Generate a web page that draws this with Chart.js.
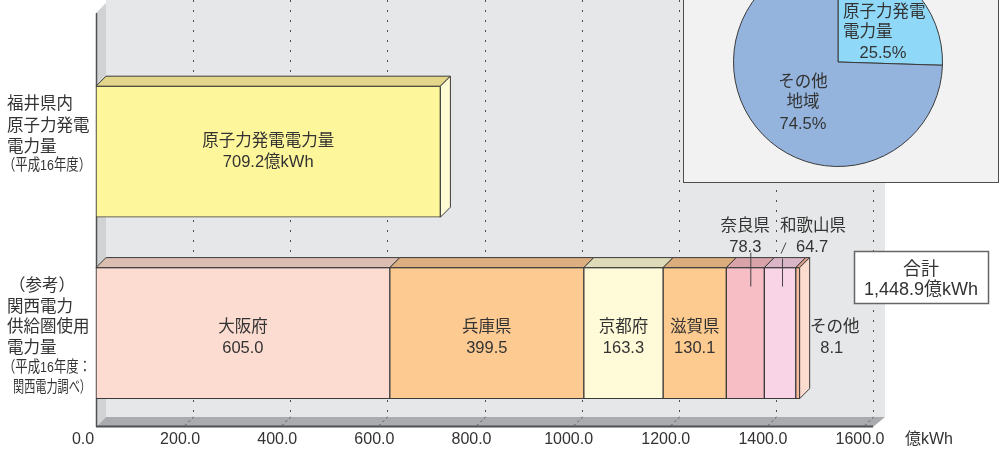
<!DOCTYPE html>
<html lang="ja">
<head>
<meta charset="UTF-8">
<title>福井県内原子力発電電力量と関西電力供給圏使用電力量</title>
<script src="https://cdn.jsdelivr.net/npm/chart.js"></script>
<style>
    body {
        margin: 0;
        background: #fff;
        font-family: "Liberation Sans", "Noto Sans CJK JP", sans-serif;
    }
    #wrap {
        position: relative;
        width: 1002px;
        height: 454px;
        overflow: hidden;
    }
    #barChart {
        position: absolute;
        left: 0;
        top: 0;
    }
    #pieBox {
        position: absolute;
        left: 683px;
        top: -10px;
        width: 314px;
        height: 191px;
        background: #f2f2f2;
        border: 1px solid #4d4d4d;
    }
    #pieHolder {
        position: absolute;
        left: 728px;
        top: -48px;
        width: 220px;
        height: 220px;
    }
</style>
</head>
<body>
<div id="wrap">
    <canvas id="barChart" width="1002" height="459"></canvas>
    <div id="pieBox"></div>
    <div id="pieHolder"><canvas id="pieChart" width="220" height="220"></canvas></div>
</div>
<script>
// ---- data (億kWh) ----
const rowLabels = ['福井県内原子力発電電力量', '関西電力供給圏使用電力量'];
const rowLabelLines = [
    ['福井県内', '原子力発電', '電力量', '（平成16年度）'],
    ['（参考）', '関西電力', '供給圏使用', '電力量', '（平成16年度：', '関西電力調べ）']
];
const nuclearName = '原子力発電電力量';
const nuclearValue = 709.2;
const areaNames = ['大阪府', '兵庫県', '京都府', '滋賀県', '奈良県', '和歌山県', 'その他'];
const areaValues = [605.0, 399.5, 163.3, 130.1, 78.3, 64.7, 8.1];
const totalValue = 1448.9;
const xMin = 0;
const xMax = 1600;
const xStep = 200;
const unitLabel = '億kWh';
const pieNames = [['原子力発電', '電力量'], ['その他', '地域']];
const pieValues = [25.5, 74.5];

// ---- styles ----
const FONT = '"Liberation Sans", "Noto Sans CJK JP", sans-serif';
const TEXT = '#333333';
const EDGE = '#3a3a3a';
const DEPTH = 10;
const areaFront = ['#fcdcd0', '#fdcb92', '#fffad7', '#fdcb8f', '#f8bec6', '#f9d3e6', '#f8bc9d'];
const areaTop = ['#dcbdb1', '#dcae80', '#dedbb9', '#dcad7c', '#d9a3aa', '#d9b5c7', '#de9f85'];
const areaCallout = ['inside', 'inside', 'inside', 'inside', 'aboveLeft', 'aboveRight', 'right'];

Chart.defaults.font.family = FONT;
Chart.defaults.color = TEXT;

function poly(ctx, pts, fill) {
    ctx.beginPath();
    ctx.moveTo(pts[0][0], pts[0][1]);
    for (let i = 1; i < pts.length; i++) ctx.lineTo(pts[i][0], pts[i][1]);
    ctx.closePath();
    ctx.fillStyle = fill;
    ctx.fill();
    ctx.lineWidth = 1;
    ctx.strokeStyle = EDGE;
    ctx.stroke();
}

function text(ctx, str, x, y, size, align, maxW) {
    ctx.font = size + 'px ' + FONT;
    ctx.fillStyle = TEXT;
    ctx.textAlign = align || 'center';
    ctx.textBaseline = 'middle';
    if (maxW) ctx.fillText(str, x, y, maxW);
    else ctx.fillText(str, x, y);
}

function line(ctx, x1, y1, x2, y2, color, width, dash) {
    ctx.beginPath();
    ctx.setLineDash(dash || []);
    ctx.moveTo(x1, y1);
    ctx.lineTo(x2, y2);
    ctx.strokeStyle = color;
    ctx.lineWidth = width || 1;
    ctx.stroke();
    ctx.setLineDash([]);
}

// back wall, left wall, floor and dotted grid
const roomPlugin = {
    id: 'room',
    beforeDatasetsDraw(chart) {
        const ctx = chart.ctx;
        const x = chart.scales.x;
        const x0 = x.getPixelForValue(xMin);
        const xEnd = x.getPixelForValue(xMax);
        const wallBottom = 417;
        const floorFront = wallBottom + DEPTH;
        ctx.save();
        ctx.fillStyle = '#e6e7e8';
        ctx.fillRect(x0 + DEPTH, 0, xEnd + 12 - x0 - DEPTH, wallBottom);
        ctx.beginPath();
        ctx.moveTo(x0, 13);
        ctx.lineTo(x0 + DEPTH, 3);
        ctx.lineTo(x0 + DEPTH, wallBottom);
        ctx.lineTo(x0, floorFront);
        ctx.closePath();
        ctx.fillStyle = '#d1d2d4';
        ctx.fill();
        ctx.beginPath();
        ctx.moveTo(x0, floorFront);
        ctx.lineTo(x0 + DEPTH, wallBottom);
        ctx.lineTo(xEnd + 12, wallBottom);
        ctx.lineTo(xEnd, floorFront);
        ctx.closePath();
        ctx.fillStyle = '#a9abae';
        ctx.fill();
        line(ctx, x0, floorFront - 0.5, xEnd, floorFront - 0.5, '#4f5052', 2);
        line(ctx, x0 + 0.5, 13, x0 + 0.5, floorFront, '#4f5052', 1.5);
        x.ticks.forEach(t => {
            if (t.value === xMin) return;
            const px = Math.round(x.getPixelForValue(t.value)) + 0.5;
            line(ctx, px, 0, px, wallBottom, '#4d4d4d', 1, [2, 8]);
            line(ctx, px, wallBottom, px - DEPTH, floorFront, '#4d4d4d', 1, [2, 3]);
        });
        ctx.restore();
    }
};

// 3D faces, labels in and around the bars
const facesPlugin = {
    id: 'faces',
    afterDatasetsDraw(chart) {
        const ctx = chart.ctx;
        const dsets = chart.data.datasets;
        const y = chart.scales.y;
        ctx.save();
        dsets.forEach((ds, di) => {
            const meta = chart.getDatasetMeta(di);
            meta.data.forEach((bar, i) => {
                if (ds.data[i] == null) return;
                const p = bar.getProps(['x', 'y', 'base', 'height'], true);
                const left = Math.min(p.x, p.base), right = Math.max(p.x, p.base);
                const top = p.y - p.height / 2, bottom = p.y + p.height / 2;
                const D = DEPTH;
                poly(ctx, [[left, top], [left + D, top - D], [right + D, top - D], [right, top]], ds.topColor);
                let last = true;
                for (let k = di + 1; k < dsets.length; k++) if (dsets[k].data[i] != null) last = false;
                if (last) {
                    poly(ctx, [[right, top], [right + D, top - D], [right + D, bottom - D], [right, bottom]],
                        ds.sideColor || '#fddcd0');
                }
                const cx = (left + right) / 2;
                const v = ds.data[i];
                if (ds.callout === 'nuclear') {
                    text(ctx, ds.label, cx, p.y - 10, 16.5);
                    text(ctx, v.toFixed(1) + unitLabel, cx, p.y + 11, 16.5);
                } else if (ds.callout === 'inside') {
                    text(ctx, ds.label, cx, p.y - 6, 16.5);
                    text(ctx, v.toFixed(1), cx, p.y + 15, 16.5);
                } else if (ds.callout === 'aboveLeft') {
                    text(ctx, ds.label, cx, top - 41, 16.5);
                    text(ctx, v.toFixed(1), cx, top - 20, 16.5);
                    line(ctx, cx + 5.5, top - 15, cx + 5.5, top + 19, '#444', 1);
                } else if (ds.callout === 'aboveRight') {
                    text(ctx, ds.label, cx + 33, top - 41, 16.5);
                    text(ctx, v.toFixed(1), cx + 32, top - 20, 16.5);
                    line(ctx, cx + 1, top - 14, cx + 6, top - 25, '#444', 1);
                    line(ctx, cx + 2.5, top - 9, cx + 2.5, top + 19, '#444', 1);
                } else if (ds.callout === 'right') {
                    text(ctx, ds.label, right + 35, p.y - 6, 16.5);
                    text(ctx, v.toFixed(1), right + 32, p.y + 15, 16.5);
                }
            });
        });

        // category labels at the left
        const smallLine = [[false, false, false, true], [false, false, false, false, true, true]];
        const offsets = [[-47, -25.5, -4.5, 14.5], [-47, -25.5, -5.5, 15.5, 35, 55]];
        const lineX = [[7, 7, 7, 3], [9, 7, 7, 7, 3, 13]];
        rowLabelLines.forEach((lines, r) => {
            const cy = y.getPixelForValue(r);
            lines.forEach((s, k) => {
                if (smallLine[r][k]) text(ctx, s, lineX[r][k], cy + offsets[r][k], 15.5, 'left', 91 - lineX[r][k]);
                else text(ctx, s, lineX[r][k], cy + offsets[r][k], 16.5, 'left');
            });
        });

        // total box
        ctx.fillStyle = '#fff';
        ctx.fillRect(854.5, 251.5, 134, 52);
        ctx.strokeStyle = '#666';
        ctx.lineWidth = 1.5;
        ctx.strokeRect(854.5, 251.5, 134, 52);
        text(ctx, '合計', 921, 270, 18);
        text(ctx, totalValue.toLocaleString('en-US', { minimumFractionDigits: 1 }) + unitLabel, 921, 290, 18);

        // unit of the x axis
        text(ctx, unitLabel, 905, 440, 16, 'left');
        ctx.restore();
    }
};

const datasets = [{
    label: nuclearName,
    data: [nuclearValue, null],
    backgroundColor: '#fef69b',
    topColor: '#e3d68a',
    sideColor: '#fffbd2',
    callout: 'nuclear'
}].concat(areaNames.map((name, i) => ({
    label: name,
    data: [null, areaValues[i]],
    backgroundColor: areaFront[i],
    topColor: areaTop[i],
    sideColor: '#fddcd0',
    callout: areaCallout[i]
})));
datasets.forEach(d => {
    d.borderColor = EDGE;
    d.borderWidth = 1;
    d.borderSkipped = false;
    d.barThickness = 131;
});

new Chart(document.getElementById('barChart'), {
    type: 'bar',
    data: { labels: rowLabels, datasets: datasets },
    options: {
        indexAxis: 'y',
        responsive: false,
        animation: false,
        devicePixelRatio: 1,
        layout: { padding: { left: 96, right: 129, top: 61, bottom: 4 } },
        scales: {
            x: {
                stacked: true,
                min: xMin,
                max: xMax,
                grid: { display: false, drawTicks: false },
                border: { display: false },
                ticks: {
                    stepSize: xStep,
                    padding: 6,
                    labelOffset: -13,
                    color: TEXT,
                    font: { size: 16 },
                    callback: v => Number(v).toFixed(1)
                }
            },
            y: { stacked: true, display: false }
        },
        plugins: { legend: { display: false }, tooltip: { enabled: false } }
    },
    plugins: [roomPlugin, facesPlugin]
});

// pie in the corner box
const pieLabelPlugin = {
    id: 'pieLabels',
    afterDatasetsDraw(chart) {
        const ctx = chart.ctx;
        const arc = chart.getDatasetMeta(0).data[0];
        const cx = arc.x, cy = arc.y;
        ctx.save();
        text(ctx, pieNames[0][0], cx + 5, cy - 50, 16.5, 'left');
        text(ctx, pieNames[0][1], cx + 5, cy - 30, 16.5, 'left');
        text(ctx, pieValues[0].toFixed(1) + '%', cx + 45, cy - 9, 16.5);
        text(ctx, pieNames[1][0], cx - 35, cy + 20, 16.5);
        text(ctx, pieNames[1][1], cx - 35, cy + 40, 16.5);
        text(ctx, pieValues[1].toFixed(1) + '%', cx - 35, cy + 62, 16.5);
        ctx.restore();
    }
};

new Chart(document.getElementById('pieChart'), {
    type: 'pie',
    data: {
        labels: pieNames.map(n => n.join('')),
        datasets: [{
            data: pieValues,
            backgroundColor: ['#8fd8f7', '#94b4de'],
            borderColor: EDGE,
            borderWidth: 1
        }]
    },
    options: {
        responsive: false,
        animation: false,
        devicePixelRatio: 1,
        layout: { padding: 5 },
        plugins: { legend: { display: false }, tooltip: { enabled: false } }
    },
    plugins: [pieLabelPlugin]
});
</script>
</body>
</html>
